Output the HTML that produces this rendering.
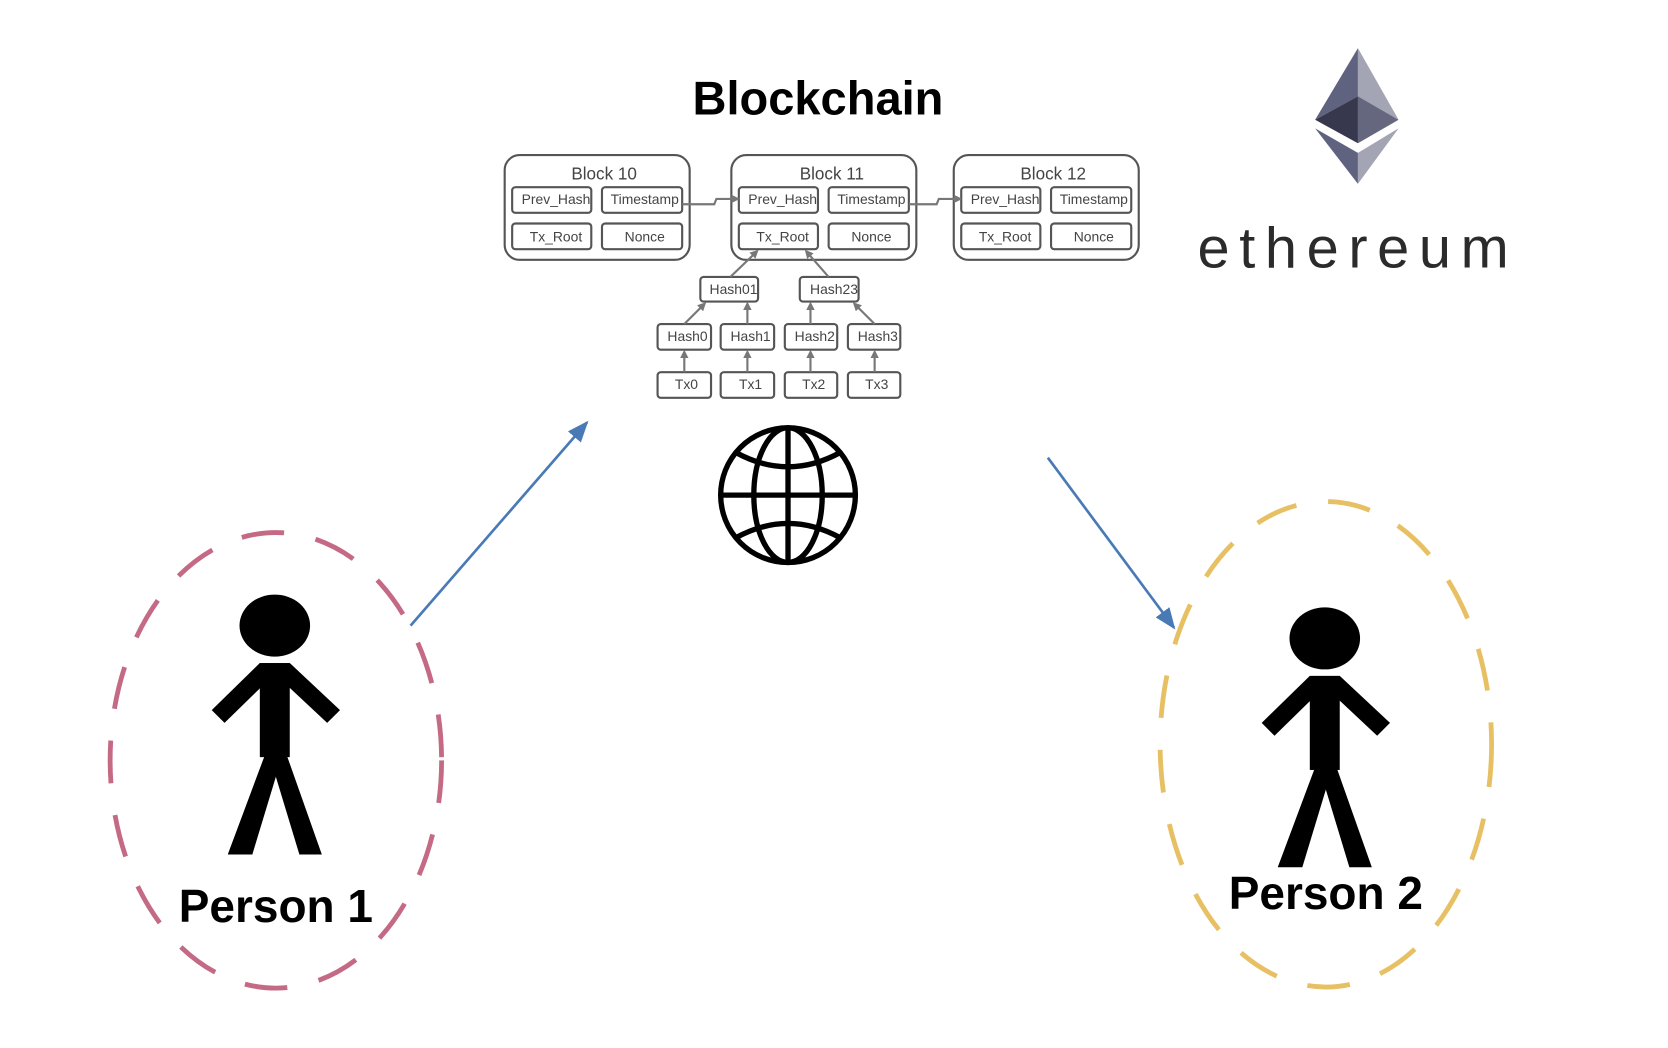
<!DOCTYPE html>
<html><head><meta charset="utf-8"><style>
html,body{margin:0;padding:0;background:#fff;}
svg{display:block;}
text{font-family:"Liberation Sans",sans-serif;}
.bx{fill:#fff;stroke:#555;stroke-width:2;}
.ob{fill:#fff;stroke:#555;stroke-width:2;}
.t{font-size:13px;fill:#444;text-anchor:middle;}
.bt{font-size:16px;fill:#444;text-anchor:middle;}
.g{stroke:#777;stroke-width:2;fill:none;}
</style></head><body>
<svg width="1668" height="1048" viewBox="0 0 1560 980" preserveAspectRatio="none" xmlns="http://www.w3.org/2000/svg">
<defs>
<marker id="ga" markerWidth="8" markerHeight="8" refX="6" refY="4" orient="auto" markerUnits="userSpaceOnUse"><path d="M0,0 L8,4 L0,8z" fill="#777"/></marker>
<marker id="ba" markerWidth="22" markerHeight="22" refX="18" refY="11" orient="auto" markerUnits="userSpaceOnUse"><path d="M0,3 L20,11 L0,19z" fill="#4a7ab5"/></marker>
</defs>
<text x="765" y="107" font-size="44" font-weight="bold" text-anchor="middle" fill="#000">Blockchain</text>

<g>
<rect class="ob" x="472" y="145" width="173" height="98" rx="14"/>
<rect class="ob" x="684" y="145" width="173" height="98" rx="14"/>
<rect class="ob" x="892" y="145" width="173" height="98" rx="14"/>
<text class="bt" x="565" y="168">Block 10</text>
<text class="bt" x="778" y="168">Block 11</text>
<text class="bt" x="985" y="168">Block 12</text>
</g>
<g>
<rect class="bx" x="479" y="175" width="74" height="24" rx="3"/><text class="t" x="520" y="191">Prev_Hash</text>
<rect class="bx" x="563" y="175" width="75" height="24" rx="3"/><text class="t" x="603" y="191">Timestamp</text>
<rect class="bx" x="479" y="209" width="74" height="24" rx="3"/><text class="t" x="520" y="226">Tx_Root</text>
<rect class="bx" x="563" y="209" width="75" height="24" rx="3"/><text class="t" x="603" y="226">Nonce</text>
</g>
<g transform="translate(212,0)">
<rect class="bx" x="479" y="175" width="74" height="24" rx="3"/><text class="t" x="520" y="191">Prev_Hash</text>
<rect class="bx" x="563" y="175" width="75" height="24" rx="3"/><text class="t" x="603" y="191">Timestamp</text>
<rect class="bx" x="479" y="209" width="74" height="24" rx="3"/><text class="t" x="520" y="226">Tx_Root</text>
<rect class="bx" x="563" y="209" width="75" height="24" rx="3"/><text class="t" x="603" y="226">Nonce</text>
</g>
<g transform="translate(420,0)">
<rect class="bx" x="479" y="175" width="74" height="24" rx="3"/><text class="t" x="520" y="191">Prev_Hash</text>
<rect class="bx" x="563" y="175" width="75" height="24" rx="3"/><text class="t" x="603" y="191">Timestamp</text>
<rect class="bx" x="479" y="209" width="74" height="24" rx="3"/><text class="t" x="520" y="226">Tx_Root</text>
<rect class="bx" x="563" y="209" width="75" height="24" rx="3"/><text class="t" x="603" y="226">Nonce</text>
</g>
<path class="g" d="M638,191 L668,191 L670,186 L690,186" marker-end="url(#ga)"/>
<path class="g" d="M850,191 L876,191 L878,186 L898,186" marker-end="url(#ga)"/>

<rect class="bx" x="655" y="259" width="54" height="23" rx="3"/><text class="t" x="686" y="275">Hash01</text>
<rect class="bx" x="748" y="259" width="55" height="23" rx="3"/><text class="t" x="780" y="275">Hash23</text>
<rect class="bx" x="615" y="303" width="50" height="24" rx="3"/><text class="t" x="643" y="319">Hash0</text>
<rect class="bx" x="674" y="303" width="50" height="24" rx="3"/><text class="t" x="702" y="319">Hash1</text>
<rect class="bx" x="734" y="303" width="49" height="24" rx="3"/><text class="t" x="762" y="319">Hash2</text>
<rect class="bx" x="793" y="303" width="49" height="24" rx="3"/><text class="t" x="821" y="319">Hash3</text>
<rect class="bx" x="615" y="348" width="50" height="24" rx="3"/><text class="t" x="642" y="364">Tx0</text>
<rect class="bx" x="674" y="348" width="50" height="24" rx="3"/><text class="t" x="702" y="364">Tx1</text>
<rect class="bx" x="734" y="348" width="49" height="24" rx="3"/><text class="t" x="761" y="364">Tx2</text>
<rect class="bx" x="793" y="348" width="49" height="24" rx="3"/><text class="t" x="820" y="364">Tx3</text>
<g class="g">
<path d="M640,348 L640,329" marker-end="url(#ga)"/>
<path d="M699,348 L699,329" marker-end="url(#ga)"/>
<path d="M758,348 L758,329" marker-end="url(#ga)"/>
<path d="M818,348 L818,329" marker-end="url(#ga)"/>
<path d="M640,303 L659,284" marker-end="url(#ga)"/>
<path d="M699,303 L699,284" marker-end="url(#ga)"/>
<path d="M758,303 L758,284" marker-end="url(#ga)"/>
<path d="M818,303 L799,284" marker-end="url(#ga)"/>
<path d="M683,259 L708,235" marker-end="url(#ga)"/>
<path d="M775,259 L754,235" marker-end="url(#ga)"/>
</g>

<g fill="none" stroke="#000" stroke-width="5">
<circle cx="737" cy="463" r="63"/>
<ellipse cx="737" cy="463" rx="32" ry="63"/>
<line x1="737" y1="400" x2="737" y2="526"/>
<line x1="674" y1="463" x2="800" y2="463"/>
<path d="M688,423 Q737,450 786,423"/>
<path d="M688,503 Q737,476 786,503"/>
</g>

<line x1="384" y1="585" x2="549" y2="395" stroke="#4a7ab5" stroke-width="2.5" marker-end="url(#ba)"/>
<line x1="980" y1="428" x2="1098" y2="587" stroke="#4a7ab5" stroke-width="2.5" marker-end="url(#ba)"/>

<ellipse cx="258" cy="711" rx="155" ry="213" fill="none" stroke="#c46a85" stroke-width="4.5" stroke-dasharray="40,30"/>
<ellipse cx="1240" cy="696" rx="155" ry="227" fill="none" stroke="#e8c064" stroke-width="4.5" stroke-dasharray="40,30"/>

<g fill="#000">
<ellipse cx="257" cy="585" rx="33" ry="29"/>
<rect x="243" y="620" width="28" height="88"/>
<polygon points="243,620 255,632 210,676 198,664"/>
<polygon points="271,620 259,632 306,676 318,664"/>
<polygon points="250,700 266,700 236,799 213,799"/>
<polygon points="250,700 266,700 301,799 280,799"/>
</g>
<text x="258" y="862" font-size="43" font-weight="bold" text-anchor="middle">Person 1</text>
<g fill="#000" transform="translate(982,12)">
<ellipse cx="257" cy="585" rx="33" ry="29"/>
<rect x="243" y="620" width="28" height="88"/>
<polygon points="243,620 255,632 210,676 198,664"/>
<polygon points="271,620 259,632 306,676 318,664"/>
<polygon points="250,700 266,700 236,799 213,799"/>
<polygon points="250,700 266,700 301,799 280,799"/>
</g>
<text x="1240" y="850" font-size="43" font-weight="bold" text-anchor="middle">Person 2</text>

<g>
<polygon points="1270,45 1230,112 1270,90" fill="#5f6380"/>
<polygon points="1270,45 1308,112 1270,90" fill="#a4a5b4"/>
<polygon points="1230,112 1270,90 1270,134" fill="#37374d"/>
<polygon points="1308,112 1270,90 1270,134" fill="#65677f"/>
<polygon points="1230,120 1270,143 1270,172" fill="#5f6380"/>
<polygon points="1308,120 1270,143 1270,172" fill="#a4a5b4"/>
</g>
<text x="1270" y="250" font-size="54" text-anchor="middle" letter-spacing="9" fill="#2b2b2b">ethereum</text>
</svg>
</body></html>
